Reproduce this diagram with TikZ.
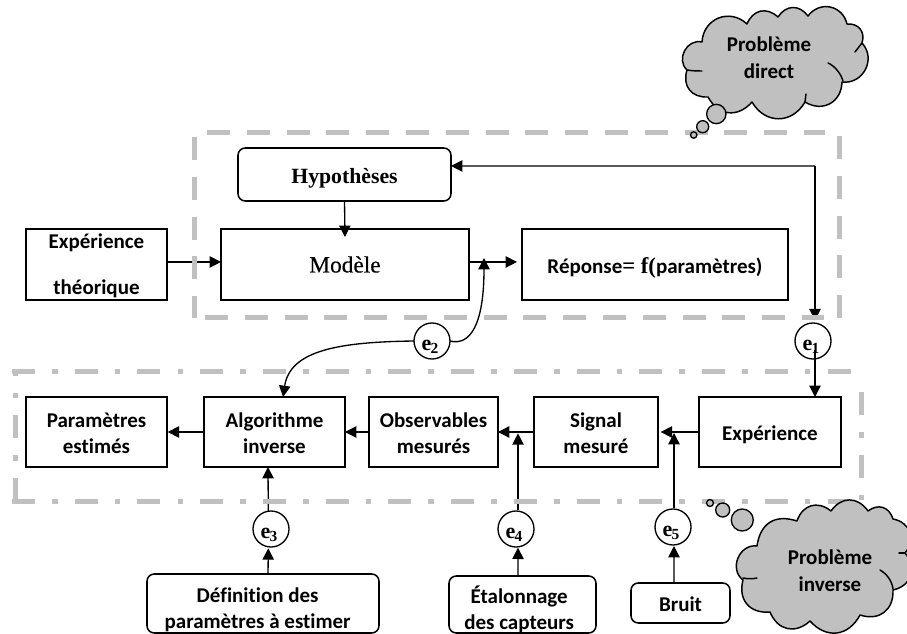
\documentclass[tikz,border=0pt]{standalone}
\usepackage{fontspec}
\setmainfont{Carlito}[Ligatures=NoCommon]
\newfontfamily\serifface{Liberation Serif}
\newfontfamily\semiserif{Liberation Serif}[FakeBold=0.35]
\usetikzlibrary{arrows.meta}
\definecolor{cgray}{HTML}{C0C0C0}
\newcommand{\lns}[2]{\raisebox{#1}[0pt][0pt]{\begin{tabular}{@{}c@{}}#2\end{tabular}}}
\newcommand{\errlab}[1]{\raisebox{-7pt}[0pt][0pt]{\serifface\bfseries\fontsize{16.5}{16}\selectfont\kern-2.5pt e\kern-0.5pt\textsubscript{#1}}}
\tikzset{
  x=0.75pt,y=-0.75pt,
  sz/.style 2 args={minimum width=#1*0.75pt,minimum height=#2*0.75pt},
  basebox/.style={draw=black,line width=1.15pt,fill=white,inner sep=0pt,outer sep=0pt,align=center,
    font=\bfseries\fontsize{15.75}{19.5}\selectfont},
  sqbox/.style={basebox},
  rbox/.style={basebox,rounded corners=5.5pt},
  errnode/.style={draw=black,circle,line width=1pt,fill=white,inner sep=0pt,outer sep=0pt,minimum size=27pt},
  arr/.style={line width=1pt,-{Triangle[length=8.5pt,width=8.5pt]}},
  framea/.style={draw=cgray,line width=3.75pt,dash pattern=on 17.25pt off 12.6pt},
  frameb/.style={draw=cgray,line width=3.75pt,dash pattern=on 17.25pt off 12.8pt on 4.2pt off 12.8pt},
  cloudshape/.style={draw=black,line width=1.1pt,fill=cgray,line join=round},
  crease/.style={draw=black,line width=1.1pt,line cap=round},
  bubble/.style={draw=black,circle,line width=1pt,fill=cgray,inner sep=0pt,outer sep=0pt},
  cloudtext/.style={inner sep=0pt,align=center,font=\bfseries\fontsize{15.75}{20}\selectfont},
  lobe/.style={bend left=#1,looseness=1.25},
  lobe/.default=65
}
\begin{document}
\begin{tikzpicture}
\useasboundingbox (0,0) rectangle (907,634);
% boxes
\node[sqbox,sz={141}{71}] (expt) at (96.5,264.5) {\lns{-5pt}{Expérience\\[15pt]théorique}};
\node[sqbox,sz={248}{71}] (model) at (345,264.5) {\semiserif\mdseries\fontsize{17.5}{17}\selectfont\raisebox{-6pt}[0pt][0pt]{Modèle}};
\node[rbox,sz={213}{53}] (hyp) at (344.5,174.5) {\serifface\fontsize{16.3}{16}\selectfont\raisebox{-7pt}[0pt][0pt]{Hypothèses}};
\node[sqbox,sz={266}{71}] (rep) at (655,264.5) {\raisebox{-6.5pt}[0pt][0pt]{Réponse{\serifface\fontsize{17}{17}\selectfont= f(}paramètres)}};
\node[sqbox,sz={141}{70}] (param) at (96.5,432) {\lns{-6pt}{Paramètres\\estimés}};
\node[sqbox,sz={141}{70}] (algo) at (274.5,432) {\lns{-6pt}{Algorithme\\inverse}};
\node[sqbox,sz={129}{70}] (obs) at (433.5,432) {\lns{-6pt}{Observables\\mesurés}};
\node[sqbox,sz={124}{70}] (sig) at (596,432) {\lns{-6pt}{Signal\\mesuré}};
\node[sqbox,sz={142}{70}] (exper) at (770,432) {\raisebox{-6.5pt}[0pt][0pt]{Expérience}};
\node[rbox,sz={232}{59}] (def) at (263,603.5) {\kern-8pt\lns{-9pt}{Définition des\\paramètres à estimer}};
\node[rbox,sz={147}{57}] (etal) at (522.5,604.5) {\kern-5pt\lns{-9pt}{Étalonnage\\des capteurs}};
\node[rbox,sz={99}{40}] (bruit) at (680.5,603) {\raisebox{-6.5pt}[0pt][0pt]{Bruit}};
% connectors
\coordinate (corner) at (815,166);
\coordinate (junc) at (484,258);
\draw[arr] (hyp.south) -- ([yshift=-6pt]model.north);
\draw[arr] ([yshift=1.9pt]expt.east) -- ([yshift=1.9pt]model.west);
\draw[arr] ([yshift=1.9pt]model.east) -- ([xshift=-3.75pt,yshift=1.9pt]rep.west);
\draw[arr] (corner) -- ([yshift=6.4pt]hyp.east);
\draw[arr] (algo.west) -- ([xshift=0.5pt]param.east);
\draw[arr] (obs.west) -- (algo.east);
\draw[arr] (sig.west) -- (obs.east);
\draw[arr] (exper.west) -- ([xshift=2pt]sig.east);
% error circles
\node[errnode] (e1) at (813,341) {\errlab{1}};
\node[errnode] (e2) at (432,341) {\errlab{2}};
\node[errnode] (e3) at (271,529) {\errlab{3}};
\node[errnode] (e4) at (516,529) {\errlab{4}};
\node[errnode] (e5) at (673,527) {\errlab{5}};
\draw[arr] (corner) -- ([xshift=1.5pt,yshift=2pt]e1.north);
\draw[arr] ([xshift=1.5pt,yshift=-6.75pt]e1.center) -- ([xshift=33.75pt]exper.north);
\draw[arr] (e2.east) .. controls (470,346) and (484,325) .. (junc);
\draw[arr] (e2.west) .. controls (340,342) and (290,350) .. ([xshift=6.4pt]algo.north);
\draw[arr] ([xshift=-2pt]e3.north) -- ([xshift=-4.9pt]algo.south);
\draw[arr] ([xshift=3.75pt]def.north) -- ([xshift=-2pt,yshift=-1pt]e3.south);
\draw[arr] ([xshift=1.5pt,yshift=1pt]e4.north) -- ([xshift=-58.5pt,yshift=-1pt]sig.center);
\draw[arr] ([xshift=-3.4pt]etal.north) -- ([xshift=1.5pt,yshift=-0.5pt]e4.south);
\draw[arr] ([xshift=0.75pt,yshift=1pt]e5.north) -- ([xshift=58.5pt,yshift=-0.75pt]sig.center);
\draw[arr] ([xshift=-4.9pt]bruit.north) -- ([xshift=0.75pt,yshift=-0.75pt]e5.south);
% frames
\draw[framea] (207,133) -- (825,133);
\draw[framea] (839,136) -- (839,318);
\draw[framea] (205,318) -- (824,318);
\draw[framea] (194,137) -- (194,318);
\draw[frameb] (12,372) -- (866,372);
\draw[frameb] (861,392) -- (861,502);
\draw[frameb] (12,501) -- (848,501);
\draw[frameb] (15,501) -- (15,372);
% direct cloud
\draw[cloudshape] (702,42) to[lobe] (747,24) to[lobe=55] (778,17) to[lobe=55] (808,16) to[lobe] (847,24) to[lobe=55] (862,43) to[lobe=70] (842,82) to[lobe=60] (805,102) to[lobe=60] (752,102) to[lobe=55] (708,97) to[lobe=55] (687,70) to[lobe=75] cycle;
\draw[crease] (687,70) .. controls (693,71) and (698,71) .. (702,71);
\draw[crease] (828,63) .. controls (835,66) and (841,74) .. (843,81);
\draw[crease] (862,43) -- (855,52);
\draw[crease] (805,102) -- (806,94);
\node[bubble,minimum size=14.5pt] (bda) at (716.3,114) {};
\node[bubble,minimum size=9pt] (bdb) at (702.7,126.7) {};
\node[bubble,minimum size=4.8pt] (bdc) at (693.7,135) {};
\node[cloudtext] (cdir) at (769,63) {\lns{-1pt}{Problème\\direct}};
% inverse cloud
\draw[cloudshape] (757,546) to[lobe=50] (797,521) to[lobe=55] (831,511) to[lobe=55] (868,511) to[lobe=55] (893,519) to[lobe=60] (905,553) to[lobe=60] (893,590) to[lobe=55] (860,615) to[lobe=55] (810,621) to[lobe=55] (770,612) to[lobe=55] (743,580) to[lobe=75] cycle;
\draw[crease] (743,578) .. controls (748,579) and (753,579) .. (757,578);
\draw[crease] (880,570) .. controls (887,574) and (892,581) .. (893,589);
\draw[crease] (905,553) -- (899,553);
\node[bubble,minimum size=16.5pt] (bia) at (742.3,520) {};
\node[bubble,minimum size=10.5pt] (bib) at (722.7,510) {};
\node[bubble,minimum size=5.2pt] (bic) at (710,503) {};
\node[cloudtext] (cinv) at (830,575) {\lns{-2pt}{Problème\\inverse}};
\end{tikzpicture}
\end{document}
